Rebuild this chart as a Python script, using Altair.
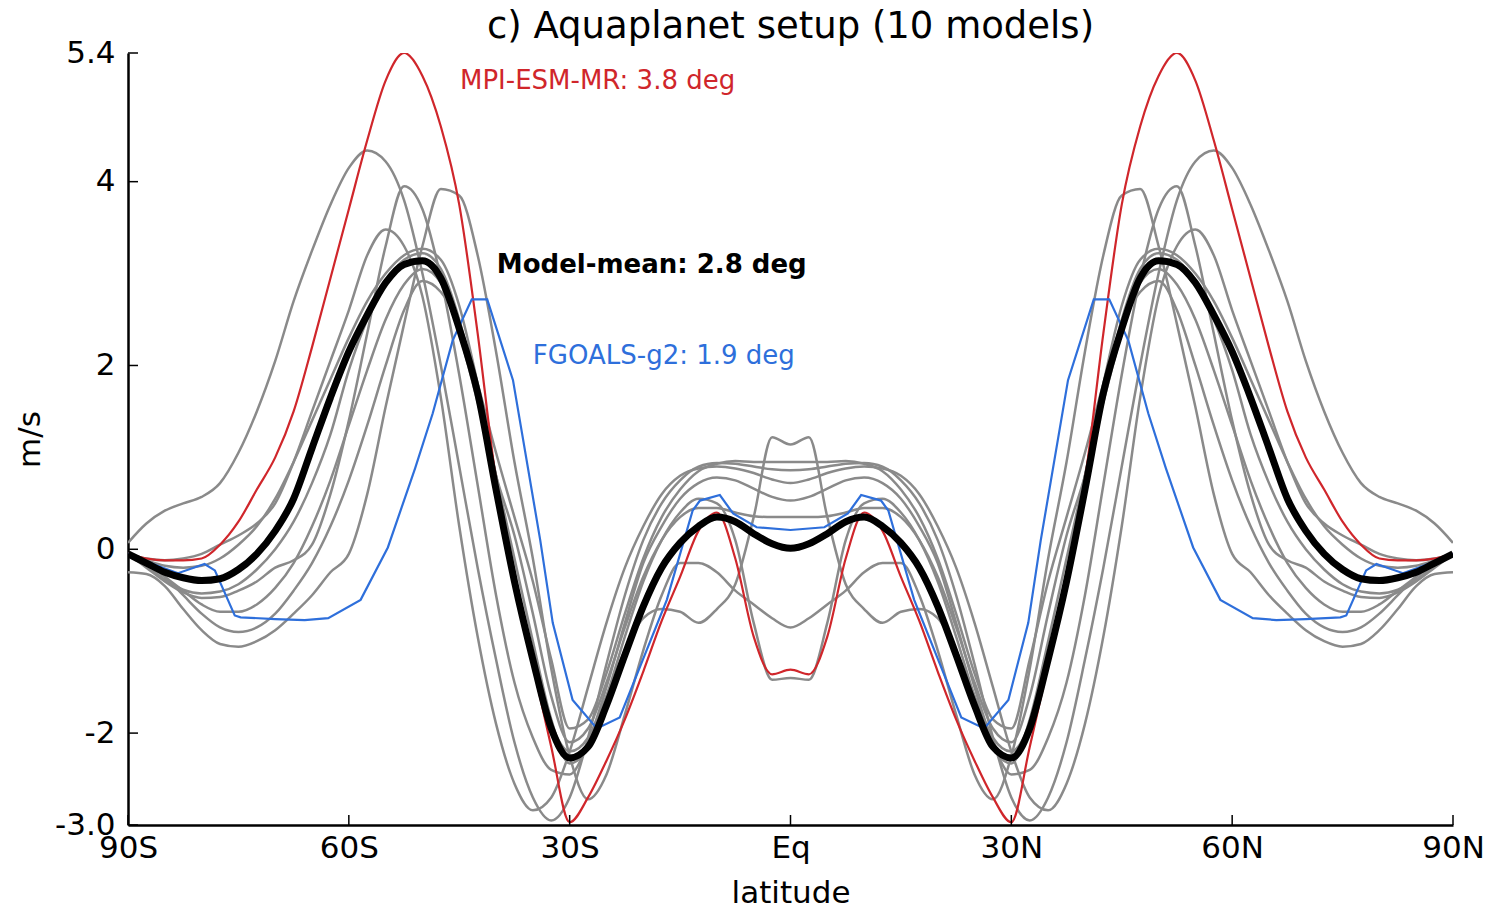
import altair as alt
import pandas as pd

# Southern-hemisphere half (the curves are symmetric about the equator)
LAT = [-90, -87.5, -85, -82.5, -80, -77.5, -75, -72.5, -70, -67.5, -65, -62.5, -60,
       -57.5, -55, -52.5, -50, -47.5, -45, -42.5, -40, -37.5, -35, -32.5, -30,
       -27.5, -25, -22.5, -20, -17.5, -15, -12.5, -10, -7.5, -5, -2.5, 0]

G1 = [0.07, 0.28, 0.42, 0.5, 0.57, 0.72, 1.05, 1.5, 2.05, 2.7, 3.25, 3.75, 4.15,
      4.34, 4.22, 3.8, 3.0, 2.0, 0.9, -0.2, -1.2, -2.1, -2.7, -2.95, -2.7,
      -2.05, -1.25, -0.5, 0.1, 0.5, 0.75, 0.9, 0.94, 0.93, 0.9, 0.87, 0.86]
G2 = [-0.05, -0.2, -0.35, -0.47, -0.53, -0.52, -0.45, -0.35, -0.2, -0.12, 0.05, 0.6, 1.4,
      2.35, 3.3, 3.95, 3.7, 2.95, 1.9, 0.7, -0.5, -1.45, -2.05, -2.4, -2.45,
      -2.1, -1.5, -0.8, -0.15, 0.25, 0.55, 0.72, 0.78, 0.75, 0.66, 0.57, 0.53]
G3 = [-0.25, -0.27, -0.4, -0.65, -0.88, -1.03, -1.06, -1.0, -0.88, -0.7, -0.5, -0.25, -0.05,
      0.6, 1.55, 2.45, 3.3, 3.92, 3.85, 3.2, 2.15, 0.95, -0.1, -1.3, -2.25,
      -2.72, -2.45, -1.8, -1.1, -0.5, -0.15, -0.15, -0.25, -0.45, -0.6, -0.75, -0.85]
G4 = [-0.05, -0.1, -0.12, -0.1, -0.05, 0.05, 0.15, 0.28, 0.5, 0.95, 1.5, 2.05, 2.6,
      3.2, 3.48, 3.3, 2.75, 1.65, 0.25, -0.95, -1.9, -2.55, -2.84, -2.7, -2.2,
      -1.5, -0.8, -0.2, 0.25, 0.6, 0.8, 0.88, 0.9, 0.88, 0.83, 0.76, 0.72]
G5 = [-0.05, -0.12, -0.18, -0.2, -0.18, -0.1, 0.05, 0.25, 0.55, 0.95, 1.4, 1.85, 2.3,
      2.7, 3.0, 3.2, 3.27, 3.15, 2.65, 1.8, 0.8, -0.25, -1.2, -1.9, -2.2,
      -2.05, -1.6, -1.1, -0.75, -0.65, -0.68, -0.8, -0.65, -0.38, 0.35, 1.22, 1.14]
G6 = [-0.05, -0.18, -0.33, -0.44, -0.48, -0.46, -0.38, -0.22, 0.0, 0.3, 0.72, 1.25, 1.95,
      2.5, 2.9, 3.15, 3.22, 3.05, 2.5, 1.7, 0.8, -0.1, -1.0, -1.85, -2.33,
      -2.15, -1.6, -0.95, -0.35, 0.1, 0.4, 0.55, 0.5, 0.1, -0.8, -1.42, -1.4]
G7 = [-0.05, -0.15, -0.3, -0.45, -0.6, -0.68, -0.68, -0.6, -0.42, -0.15, 0.25, 0.75, 1.35,
      1.95, 2.5, 2.88, 3.05, 2.9, 2.35, 1.6, 0.8, 0.15, -0.7, -1.6, -2.1,
      -1.95, -1.45, -0.85, -0.3, 0.1, 0.35, 0.45, 0.45, 0.4, 0.36, 0.35, 0.35]
G8 = [-0.05, -0.15, -0.3, -0.5, -0.7, -0.85, -0.9, -0.85, -0.7, -0.45, -0.15, 0.25, 0.75,
      1.35, 2.0, 2.6, 2.92, 2.8, 2.45, 1.8, 1.05, 0.35, -0.35, -1.2, -1.95,
      -1.85, -1.35, -0.7, -0.1, 0.35, 0.65, 0.85, 0.93, 0.96, 0.95, 0.95, 0.95]
MPI = [-0.05, -0.1, -0.12, -0.12, -0.1, 0.05, 0.3, 0.65, 1.0, 1.5, 2.2, 2.95, 3.7,
       4.45, 5.1, 5.4, 5.15, 4.6, 3.75, 2.35, 0.75, -0.35, -1.25, -2.15, -2.97,
       -2.7, -2.3, -1.85, -1.33, -0.78, -0.3, 0.2, 0.4, -0.1, -0.95, -1.36, -1.31]
MEAN = [-0.05, -0.15, -0.25, -0.31, -0.34, -0.32, -0.22, -0.05, 0.2, 0.55, 1.1, 1.65, 2.15,
        2.55, 2.9, 3.1, 3.14, 2.95, 2.4, 1.7, 0.65, -0.35, -1.2, -1.95, -2.27,
        -2.15, -1.7, -1.15, -0.62, -0.2, 0.07, 0.25, 0.35, 0.3, 0.17, 0.06, 0.01]

FGOALS_LAT = [-90, -86, -83.2, -79.6, -78.2, -75.5, -74.7, -70, -66, -62.8, -58.4, -54.7,
              -51, -48.6, -45.9, -43.3, -41.2, -37.7, -34, -32.3, -29.6, -26.3, -23.2,
              -20, -16.8, -13.3, -12.3, -9.6, -7.8, -4.6, 0]
FGOALS = [-0.05, -0.18, -0.26, -0.16, -0.23, -0.72, -0.74, -0.76, -0.77, -0.75, -0.55, 0.02,
          0.88, 1.48, 2.27, 2.72, 2.72, 1.84, 0.1, -0.8, -1.64, -1.95, -1.83,
          -1.19, -0.55, 0.42, 0.53, 0.59, 0.39, 0.24, 0.21]

X_TICKS = [-90, -60, -30, 0, 30, 60, 90]
Y_TICKS = [-3.0, -2, 0, 2, 4, 5.4]

TITLE = "c) Aquaplanet setup (10 models)"
ANNOT_TEXT = ["MPI-ESM-MR: 3.8 deg", "Model-mean: 2.8 deg", "FGOALS-g2: 1.9 deg"]
ANNOT_LAT = [-44.9, -39.9, -35.0]
ANNOT_VAL = [5.10, 3.09, 2.10]


def mirror(lats, vals):
    full_lat = list(lats) + [-v for v in reversed(lats[:-1])]
    full_val = list(vals) + list(reversed(vals[:-1]))
    return full_lat, full_val


def frame(name, lats, vals):
    la, va = mirror(lats, vals)
    return pd.DataFrame({"series": name, "lat": la, "val": va})


gray_df = pd.concat([frame(n, LAT, v) for n, v in
                     [("G1", G1), ("G2", G2), ("G3", G3), ("G4", G4),
                      ("G5", G5), ("G6", G6), ("G7", G7), ("G8", G8)]])
mpi_df = frame("MPI-ESM-MR", LAT, MPI)
mean_df = frame("Model-mean", LAT, MEAN)
fg_df = frame("FGOALS-g2", FGOALS_LAT, FGOALS)

FONT = "DejaVu Sans"
xscale = alt.Scale(domain=[-90, 90], nice=False, zero=False)
yscale = alt.Scale(domain=[-3.0, 5.4], nice=False, zero=False)

xaxis = alt.Axis(values=X_TICKS, ticks=False, grid=False, domainColor="black", domainWidth=2.5,
                 labelFont=FONT, labelFontSize=31, labelColor="black", labelPadding=8,
                 labelFlush=False, labelOverlap=False,
                 labelExpr="datum.value < 0 ? (-datum.value) + 'S' : (datum.value > 0 ? datum.value + 'N' : 'Eq')",
                 title="latitude", titleFont=FONT, titleFontSize=31, titleFontWeight="normal",
                 titleColor="black", titleX=662.5, titleY=68, titleBaseline="middle")
yaxis = alt.Axis(values=Y_TICKS, ticks=False, grid=False, domainColor="black", domainWidth=2.5,
                 labelFont=FONT, labelFontSize=31, labelColor="black", labelPadding=13,
                 labelFlush=False, labelOverlap=False,
                 labelExpr="datum.value == -3 ? '-3.0' : toString(datum.value)",
                 title="m/s", titleFont=FONT, titleFontSize=31, titleFontWeight="normal",
                 titleColor="black", titleX=-98, titleY=386, titleAngle=270,
                 titleAlign="center", titleBaseline="middle")

X = alt.X("lat:Q", scale=xscale, axis=xaxis, title="latitude")
Y = alt.Y("val:Q", scale=yscale, axis=yaxis, title="m/s")

gray = alt.Chart(gray_df).mark_line(color="#8a8a8a", strokeWidth=2.5, interpolate="monotone",
                                    clip=True).encode(x=X, y=Y, detail="series:N")
red = alt.Chart(mpi_df).mark_line(color="#d0262b", strokeWidth=2.2, interpolate="monotone",
                                  clip=True).encode(x=X, y=Y)
blue = alt.Chart(fg_df).mark_line(color="#2e6fdb", strokeWidth=2.2, clip=True).encode(x=X, y=Y)
black = alt.Chart(mean_df).mark_line(color="black", strokeWidth=7, interpolate="monotone",
                                     clip=True).encode(x=X, y=Y)

ann_df = pd.DataFrame({"text": ANNOT_TEXT, "lat": ANNOT_LAT, "val": ANNOT_VAL})
ann_red = alt.Chart(ann_df.iloc[[0]]).mark_text(align="left", baseline="middle", font=FONT,
                                                fontSize=26, color="#d0262b").encode(
    x=X, y=Y, text="text:N")
ann_black = alt.Chart(ann_df.iloc[[1]]).mark_text(align="left", baseline="middle", font=FONT,
                                                  fontSize=26, fontWeight="bold",
                                                  color="black").encode(x=X, y=Y, text="text:N")
ann_blue = alt.Chart(ann_df.iloc[[2]]).mark_text(align="left", baseline="middle", font=FONT,
                                                 fontSize=26, color="#2e6fdb").encode(
    x=X, y=Y, text="text:N")

title_df = pd.DataFrame({"text": [TITLE]})
title = alt.Chart(title_df).mark_text(align="center", baseline="alphabetic", font=FONT,
                                      fontSize=37, color="black").encode(
    x=alt.value(662.5), y=alt.value(-15), text="text:N")

ytick_df = pd.DataFrame({"val": Y_TICKS})
xtick_df = pd.DataFrame({"lat": X_TICKS})
yticks = alt.Chart(ytick_df).mark_rule(color="black", strokeWidth=1.5).encode(
    y=Y, x=alt.value(0), x2=alt.value(10))
xticks = alt.Chart(xtick_df).mark_rule(color="black", strokeWidth=1.5).encode(
    x=X, y=alt.value(772), y2=alt.value(762))

chart = alt.layer(gray, red, blue, black, ann_red, ann_black, ann_blue, yticks, xticks,
                  title).properties(
    width=1325, height=772,
    autosize=alt.AutoSizeParams(type="none"),
    padding={"left": 128, "top": 53, "right": 36, "bottom": 85},
    background="white",
).configure_view(stroke=None)

chart.save("out.html", embed_options={"renderer": "svg", "actions": False})
